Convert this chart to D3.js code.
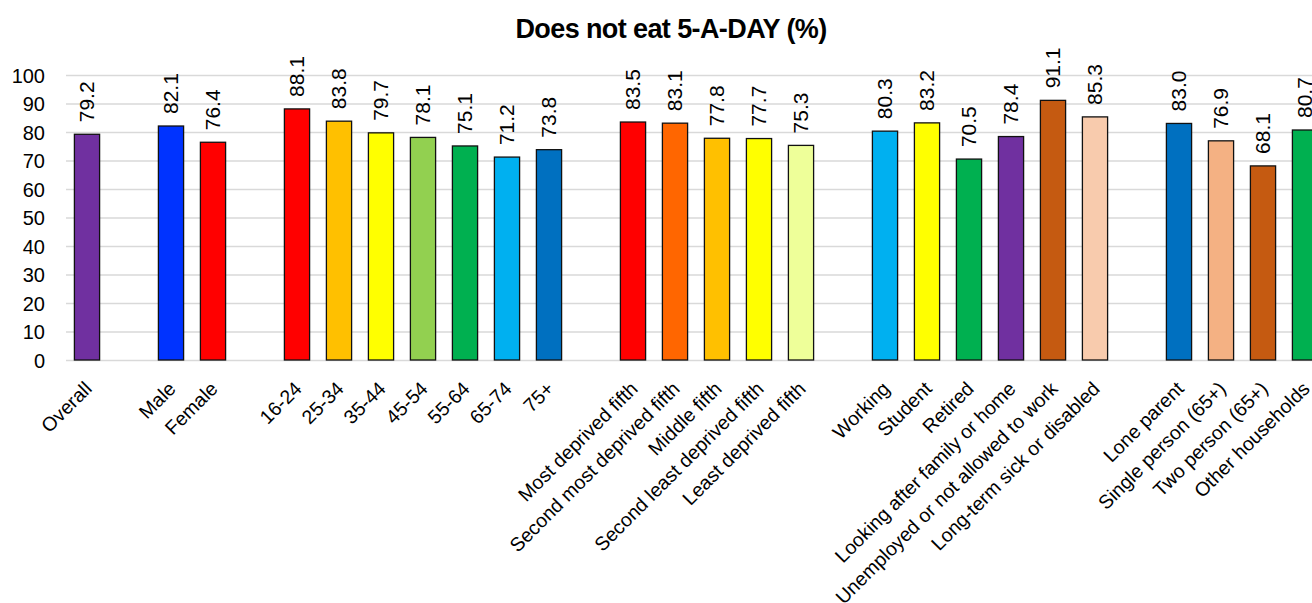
<!DOCTYPE html>
<html>
<head>
<meta charset="utf-8">
<script src="https://cdn.jsdelivr.net/npm/d3@7"></script>
<style>
  body { margin: 0; background: #fff; font-family: "Liberation Sans", Arial, sans-serif; }
  svg { display: block; }
  .grid line { stroke: #d9d9d9; stroke-width: 1.3; }
  .grid .domain { display: none; }
  .yaxis .domain, .xaxis .domain { display: none; }
  .yaxis text { font-size: 20px; fill: #000; }
  .xaxis text { font-size: 19.5px; fill: #000; }
  .val { font-size: 21px; fill: #000; }
</style>
</head>
<body>
<svg id="chart" width="1312" height="603"></svg>
<script>
// === DATA ===
const groups = [
  ["Overall"],
  ["Male", "Female"],
  ["16-24", "25-34", "35-44", "45-54", "55-64", "65-74", "75+"],
  ["Most deprived fifth", "Second most deprived fifth", "Middle fifth", "Second least deprived fifth", "Least deprived fifth"],
  ["Working", "Student", "Retired", "Looking after family or home", "Unemployed or not allowed to work", "Long-term sick or disabled"],
  ["Lone parent", "Single person (65+)", "Two person (65+)", "Other households"]
];
const values = [
  79.2,
  82.1, 76.4,
  88.1, 83.8, 79.7, 78.1, 75.1, 71.2, 73.8,
  83.5, 83.1, 77.8, 77.7, 75.3,
  80.3, 83.2, 70.5, 78.4, 91.1, 85.3,
  83.0, 76.9, 68.1, 80.7
];
const colors = [
  "#7030a0",
  "#0033ff", "#ff0000",
  "#ff0000", "#ffc000", "#ffff00", "#92d050", "#00b050", "#00b0f0", "#0070c0",
  "#ff0000", "#ff6600", "#ffc000", "#ffff00", "#eeff99",
  "#00b0f0", "#ffff00", "#00b050", "#7030a0", "#c55a11", "#f8cbad",
  "#0070c0", "#f4b183", "#c55a11", "#00b050"
];
const yTicks = [0, 10, 20, 30, 40, 50, 60, 70, 80, 90, 100];
const title = "Does not eat 5-A-DAY (%)";

// flat list of categories, with empty slots between groups
const categories = groups.flat();
const slots = [];
groups.forEach((g, i) => {
  if (i > 0) slots.push("gap" + i);
  g.forEach(c => slots.push(c));
});
const data = categories.map((c, i) => ({ name: c, value: values[i], color: colors[i] }));

// === LAYOUT ===
const plotLeft = 66, plotTop = 75, plotBottom = 360;
const step = 42;
const svg = d3.select("#chart");

const x = d3.scaleBand()
  .domain(slots)
  .range([plotLeft, plotLeft + slots.length * step])
  .paddingInner(0.4)
  .paddingOuter(0.2);
const y = d3.scaleLinear().domain([0, 100]).range([plotBottom, plotTop]);

// title
svg.append("text")
  .attr("x", 671).attr("y", 38)
  .attr("text-anchor", "middle")
  .style("font-size", "27px").style("font-weight", "bold")
  .style("letter-spacing", "-0.6px")
  .text(title);

// gridlines
svg.append("g").attr("class", "grid")
  .attr("transform", `translate(${plotLeft},0)`)
  .call(d3.axisLeft(y).tickValues(yTicks).tickSize(-(x.range()[1] - plotLeft)).tickFormat(""));

// y axis labels
svg.append("g").attr("class", "yaxis")
  .attr("transform", `translate(${plotLeft},0)`)
  .call(d3.axisLeft(y).tickValues(yTicks).tickSize(0).tickPadding(21))
  .selectAll("text").attr("dy", "0.35em");

// bars
svg.append("g").selectAll("rect")
  .data(data)
  .join("rect")
  .attr("x", d => x(d.name))
  .attr("y", d => y(d.value))
  .attr("width", x.bandwidth())
  .attr("height", d => y(0) - y(d.value))
  .attr("fill", d => d.color)
  .attr("stroke", "#111")
  .attr("stroke-width", 1.3);

// value labels
svg.append("g").selectAll("text")
  .data(data)
  .join("text")
  .attr("class", "val")
  .attr("transform", d => `translate(${x(d.name) + x.bandwidth() / 2},${y(d.value) - 12}) rotate(-90)`)
  .attr("dy", "0.35em")
  .text(d => d.value.toFixed(1));

// category labels
const xAxis = svg.append("g").attr("class", "xaxis")
  .attr("transform", `translate(0,${plotBottom})`)
  .call(d3.axisBottom(x).tickValues(categories).tickSize(0));
xAxis.selectAll(".tick line").remove();
xAxis.selectAll("text")
  .attr("text-anchor", "end")
  .attr("y", 0).attr("dy", 0)
  .attr("transform", "translate(6,30) rotate(-45)");
</script>
</body>
</html>
